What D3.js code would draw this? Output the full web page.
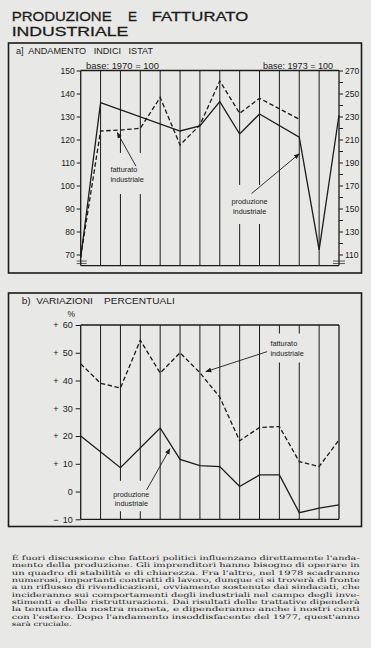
<!DOCTYPE html>
<html>
<head>
<meta charset="utf-8">
<script src="https://cdn.jsdelivr.net/npm/d3@7"></script>
<style>
  body { margin: 0; background: #e8e8e6; }
  svg { display: block; }
</style>
</head>
<body>
<svg></svg>
<script>
// periodi sull'asse orizzontale
const periodi = d3.range(14)

// a) andamento indici ISTAT (primi sei periodi base 1970 = 100, poi base 1973 = 100)
const basePeriodo = [1970, 1970, 1970, 1970, 1970, 1970, 1973, 1973, 1973, 1973, 1973, 1973, 1973, 1973]
const produzioneIndice = [68.5, 136, null, null, null, 123.7, 221.8, 242.9, 214.8, 232.2, null, 212, 114, 231.3]
const fatturatoIndice = [69, 123.7, 124.1, 124.9, 138.3, 117.6, 222.6, 260.9, 232.8, 245.8, null, 227.6, null, null]
const tickBase70 = [70, 80, 90, 100, 110, 120, 130, 140, 150]
const tickBase73 = [110, 130, 150, 170, 190, 210, 230, 250, 270]

// b) variazioni percentuali
const produzioneVar = [20, null, 8.6, null, 22.9, 11.6, 9.3, 9, 1.8, 6, 6, -7.6, -6, -4.8]
const fatturatoVar = [46, 39, 37.3, 54.5, 42.7, 50, 42.8, 34, 18.3, 23.1, 23.4, 10.8, 9, 18.6]
const tickVar = [-10, 0, 10, 20, 30, 40, 50, 60]

const testo = [
  "È fuori discussione che fattori politici influenzano direttamente l'anda-",
  "mento della produzione. Gli imprenditori hanno bisogno di operare in",
  "un quadro di stabilità e di chiarezza. Fra l'altro, nel 1978 scadranno",
  "numerosi, importanti contratti di lavoro, dunque ci si troverà di fronte",
  "a un riflusso di rivendicazioni, ovviamente sostenute dai sindacati, che",
  "incideranno sui comportamenti degli industriali nel campo degli inve-",
  "stimenti e delle ristrutturazioni. Dai risultati delle trattative dipenderà",
  "la tenuta della nostra moneta, e dipenderanno anche i nostri conti",
  "con l'estero. Dopo l'andamento insoddisfacente del 1977, quest'anno",
  "sarà cruciale."
]

const paper = '#e8e8e6'
const ink = '#1c1c1c'
const sans = 'Liberation Sans, Arial, sans-serif'

const svg = d3.select('svg').attr('width', 371).attr('height', 648)
svg.append('rect').attr('width', 371).attr('height', 648).attr('fill', paper)

const defs = svg.append('defs')
defs.append('marker')
  .attr('id', 'freccia')
  .attr('viewBox', '0 0 10 10')
  .attr('refX', 9).attr('refY', 5)
  .attr('markerWidth', 6).attr('markerHeight', 6)
  .attr('markerUnits', 'userSpaceOnUse')
  .attr('orient', 'auto')
  .append('path').attr('d', 'M0,1 L10,5 L0,9 Z').attr('fill', ink)

// titolo
const titolo = [['PRODUZIONE', 11.7, 20.7, 100], ['E', 128, 20.7, 9], ['FATTURATO', 151.7, 20.7, 96.6],
  ['INDUSTRIALE', 11.7, 35.7, 116.6]]
titolo.forEach(([t, tx, ty, len]) => {
  svg.append('text')
    .attr('x', tx).attr('y', ty)
    .attr('font-family', sans).attr('font-size', '13.3px')
    .attr('textLength', len).attr('lengthAdjust', 'spacingAndGlyphs')
    .attr('fill', ink).attr('stroke', ink).attr('stroke-width', 0.3)
    .text(t)
})

const x = d3.scaleLinear().domain([0, 13]).range([80.7, 339])

// ---------------- pannello a ----------------
const yA = d3.scaleLinear().domain([70, 150]).range([254.5, 70.5])
const yA73 = d3.scaleLinear().domain([110, 270]).range([254.5, 70.5])
const bottomA = yA(65.2)

svg.append('rect')
  .attr('x', 8.5).attr('y', 43).attr('width', 353).attr('height', 230)
  .attr('fill', 'none').attr('stroke', ink).attr('stroke-width', 1.6)

svg.append('text')
  .attr('x', 16).attr('y', 54)
  .attr('font-family', sans).attr('font-size', '9px').attr('fill', ink)
  .attr('xml:space', 'preserve')
  .attr('textLength', 137).attr('lengthAdjust', 'spacingAndGlyphs')
  .text('a]  ANDAMENTO   INDICI   ISTAT')

// griglia verticale
const gA = svg.append('g')
gA.selectAll('line.v')
  .data(periodi)
  .join('line')
  .attr('x1', d => x(d)).attr('x2', d => x(d))
  .attr('y1', yA(150)).attr('y2', bottomA)
  .attr('stroke', ink).attr('stroke-width', d => (d === 0 || d === 13) ? 1.3 : 1)

gA.append('line')
  .attr('x1', x(0)).attr('x2', x(13)).attr('y1', yA(150)).attr('y2', yA(150))
  .attr('stroke', ink).attr('stroke-width', 1.3)
gA.append('line')
  .attr('x1', x(0)).attr('x2', x(13)).attr('y1', bottomA).attr('y2', bottomA)
  .attr('stroke', ink).attr('stroke-width', 1.3)

// assi
const axisLeftA = gA.append('g')
  .attr('transform', `translate(${x(0)},0)`)
  .call(d3.axisLeft(yA).tickValues(tickBase70).tickSize(4).tickPadding(2))
const axisRightA = gA.append('g')
  .attr('transform', `translate(${x(13)},0)`)
  .call(d3.axisRight(yA73).tickValues(d3.range(110, 271, 10)).tickSize(4).tickPadding(2)
    .tickFormat(d => tickBase73.includes(d) ? d : ''))
;[axisLeftA, axisRightA].forEach(ax => {
  ax.select('.domain').remove()
  ax.selectAll('line').attr('stroke', ink)
  ax.selectAll('text').attr('font-family', sans).attr('font-size', '8.5px').attr('fill', ink)
})

// interruzioni dell'asse
;[[x(0) - 4, x(0) + 6], [x(13) - 6, x(13) + 6]].forEach(([a, b]) => {
  ;[-4.5, -2].forEach(off => {
    gA.append('line')
      .attr('x1', a).attr('x2', b)
      .attr('y1', bottomA + off).attr('y2', bottomA + off)
      .attr('stroke', ink).attr('stroke-width', 0.7)
  })
})

svg.append('text')
  .attr('x', 86).attr('y', 69)
  .attr('font-family', sans).attr('font-size', '8.5px').attr('fill', ink)
  .attr('textLength', 73).attr('lengthAdjust', 'spacingAndGlyphs')
  .text('base: 1970 = 100')
svg.append('text')
  .attr('x', 263).attr('y', 69)
  .attr('font-family', sans).attr('font-size', '8.5px').attr('fill', ink)
  .attr('textLength', 70).attr('lengthAdjust', 'spacingAndGlyphs')
  .text('base: 1973 = 100')

function puntiIndice(vals) {
  return periodi
    .map(i => ({ i, v: vals[i], base: basePeriodo[i] }))
    .filter(d => d.v != null)
}
const lineA = d3.line()
  .x(d => x(d.i))
  .y(d => d.base === 1970 ? yA(d.v) : yA73(d.v))

// ---------------- pannello b ----------------
const yB = d3.scaleLinear().domain([-10, 60]).range([519.3, 325])

svg.append('rect')
  .attr('x', 8.5).attr('y', 293).attr('width', 353).attr('height', 233.5)
  .attr('fill', 'none').attr('stroke', ink).attr('stroke-width', 1.6)

svg.append('text')
  .attr('x', 21.7).attr('y', 304)
  .attr('font-family', sans).attr('font-size', '9px').attr('fill', ink)
  .attr('xml:space', 'preserve')
  .attr('textLength', 153).attr('lengthAdjust', 'spacingAndGlyphs')
  .text('b)  VARIAZIONI    PERCENTUALI')

const gB = svg.append('g')
gB.selectAll('line.v')
  .data(periodi)
  .join('line')
  .attr('x1', d => x(d)).attr('x2', d => x(d))
  .attr('y1', yB(60)).attr('y2', yB(-10))
  .attr('stroke', ink).attr('stroke-width', d => (d === 0 || d === 13) ? 1.3 : 1)
gB.append('line')
  .attr('x1', x(0)).attr('x2', x(13)).attr('y1', yB(60)).attr('y2', yB(60))
  .attr('stroke', ink).attr('stroke-width', 1.3)
gB.append('line')
  .attr('x1', x(0)).attr('x2', x(13)).attr('y1', yB(-10)).attr('y2', yB(-10))
  .attr('stroke', ink).attr('stroke-width', 1.3)

const axisB = gB.append('g')
  .attr('transform', `translate(${x(0)},0)`)
  .call(d3.axisLeft(yB).tickValues(tickVar).tickSize(5).tickPadding(3)
    .tickFormat(d => Math.abs(d)))
axisB.select('.domain').remove()
axisB.selectAll('line').attr('stroke', ink)
axisB.selectAll('text').attr('font-family', sans).attr('font-size', '9px').attr('fill', ink)
axisB.selectAll('.tick')
  .filter(d => d !== 0)
  .append('text')
  .attr('x', -27.5).attr('dy', '0.32em')
  .attr('text-anchor', 'start')
  .attr('font-family', sans).attr('font-size', '9px').attr('fill', ink)
  .text(d => d > 0 ? '+' : '−')
svg.append('text')
  .attr('x', 67.5).attr('y', 317)
  .attr('font-family', sans).attr('font-size', '8.5px').attr('fill', ink)
  .text('%')

function puntiVar(vals) {
  return periodi.map(i => ({ i, v: vals[i] })).filter(d => d.v != null)
}
const lineB = d3.line().x(d => x(d.i)).y(d => yB(d.v))

// ---------------- etichette con freccia ----------------
const etichette = [
  { righe: ['fatturato', 'industriale'], i: 1.5, v: [105.9, 101.5], y: yA, anchor: 'start',
    da: [2.78, 108.4], a: [1.84, 123], pad: [12, 10] },
  { righe: ['produzione', 'industriale'], i: 8.5, v: [92, 87.6], y: yA, anchor: 'middle',
    da: [8.6, 96.5], a: [11, 113.8], pad: [12, 8] },
  { righe: ['fatturato', 'industriale'], i: 9.55, v: [52.6, 49], y: yB, anchor: 'start',
    da: [9.38, 50.4], a: [6.3, 43.2], pad: [5, 5] },
  { righe: ['produzione', 'industriale'], i: 2.55, v: [-1.9, -5.3], y: yB, anchor: 'middle',
    da: [3.32, 0.6], a: [4.49, 15.4], pad: [9, 3] }
]

etichette.forEach(e => {
  const g = svg.append('g')
  const bg = g.append('rect').attr('fill', paper)
  const t = g.append('g')
  e.righe.forEach((r, k) => {
    t.append('text')
      .attr('x', x(e.i)).attr('y', e.y(e.v[k]))
      .attr('text-anchor', e.anchor)
      .attr('font-family', sans).attr('font-size', '7.3px').attr('fill', ink)
      .text(r)
  })
  const bb = t.node().getBBox()
  bg.attr('x', bb.x - 2).attr('y', bb.y - e.pad[0])
    .attr('width', bb.width + 4).attr('height', bb.height + e.pad[0] + e.pad[1])
})

// serie
const serie = [
  { line: lineA, pts: puntiIndice(produzioneIndice), dash: null },
  { line: lineA, pts: puntiIndice(fatturatoIndice), dash: '4.5 2.5' },
  { line: lineB, pts: puntiVar(produzioneVar), dash: null },
  { line: lineB, pts: puntiVar(fatturatoVar), dash: '4.5 2.5' }
]
serie.forEach(s => {
  svg.append('path')
    .datum(s.pts)
    .attr('d', s.line)
    .attr('fill', 'none')
    .attr('stroke', ink)
    .attr('stroke-width', 1.3)
    .attr('stroke-linejoin', 'miter')
    .attr('stroke-dasharray', s.dash)
})

// frecce
etichette.forEach(e => {
  svg.append('line')
    .attr('x1', x(e.da[0])).attr('y1', e.y(e.da[1]))
    .attr('x2', x(e.a[0])).attr('y2', e.y(e.a[1]))
    .attr('stroke', ink).attr('stroke-width', 0.9)
    .attr('marker-end', 'url(#freccia)')
})

// testo
svg.append('g').selectAll('text')
  .data(testo)
  .join('text')
  .attr('x', 11.7)
  .attr('y', (d, k) => 560 + k * 7.33)
  .attr('font-family', 'DejaVu Serif, serif')
  .attr('font-size', '6.2px')
  .attr('fill', ink)
  .attr('textLength', (d, k) => k < testo.length - 1 ? 348 : 60)
  .attr('lengthAdjust', 'spacingAndGlyphs')
  .text(d => d)
</script>
</body>
</html>
